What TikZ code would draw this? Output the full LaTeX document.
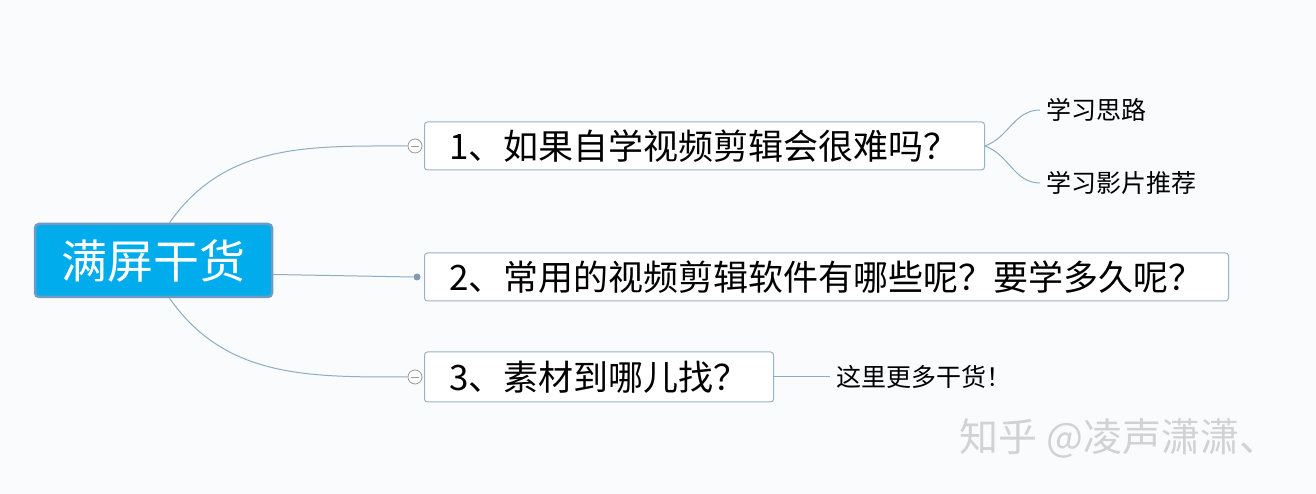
\documentclass[tikz,border=0pt]{standalone}
\usepackage{fontspec}
\setmainfont{Noto Sans CJK SC}
\usepackage{tikz}
\usetikzlibrary{positioning}
\definecolor{rootblue}{RGB}{0,172,236}
\definecolor{rootedge}{RGB}{110,156,196}
\definecolor{branchline}{RGB}{140,173,198}
\definecolor{boxedge}{RGB}{152,178,198}
\definecolor{paper}{RGB}{250,251,252}
\tikzset{
  rootbox/.style={draw=rootedge,line width=2.5pt,fill=rootblue,rounded corners=4pt,text=white,font=\fontsize{46}{50}\selectfont,minimum width=237pt,minimum height=73pt},
  topicbox/.style={draw=boxedge,line width=1pt,fill=white,rounded corners=3pt,font=\fontsize{35}{38}\selectfont,minimum height=48pt,anchor=west,inner xsep=25pt,align=left},
  leaftext/.style={font=\fontsize{25}{28}\selectfont,anchor=west,inner sep=6pt},
  foldmark/.style={circle,draw=gray!80,fill=white,line width=0.8pt,minimum size=14pt,inner sep=0pt},
  dotmark/.style={circle,fill=branchline!90!black,minimum size=7pt,inner sep=0pt},
  branch/.style={draw=branchline,line width=1pt},
}
\begin{document}
\begin{tikzpicture}[x=1pt,y=1pt]
        \fill [paper] (0,0) rectangle (1316,494);
        \useasboundingbox (0,0) rectangle (1316,494);
        \node (root) at (153.5,233.5) [rootbox] {满屏干货};
        \node (t1) at (424,348) [topicbox,text width=510pt] {1、如果自学视频剪辑会很难吗？};
        \node (t2) at (424,217) [topicbox,text width=754pt] {2、常用的视频剪辑软件有哪些呢？要学多久呢？};
        \node (t3) at (424,117) [topicbox,text width=299pt,minimum height=50pt] {3、素材到哪儿找？};
        \node (f1) at (415,348) [foldmark] {};
        \node (f2) at (417,217) [dotmark] {};
        \node (f3) at (415,117) [foldmark] {};
        \draw [gray!80,line width=0.8pt] ([xshift=-4pt]f1.center)--([xshift=4pt]f1.center);
        \draw [gray!80,line width=0.8pt] ([xshift=-4pt]f3.center)--([xshift=4pt]f3.center);
        \node (s1) at (1040,384) [leaftext] {学习思路};
        \node (s2) at (1040,311) [leaftext] {学习影片推荐};
        \node (s3) at (830,117) [leaftext] {这里更多干货！};
        \node (mark) at (956,56) [anchor=west,text=gray!35,font=\fontsize{39}{42}\selectfont] {知乎 @凌声潇潇、};
        \draw [branch] ([xshift=16pt]root.north) to [out=55,in=180] (f1.west);
        \draw [branch] ([yshift=-14pt]root.east)--(f2.west);
        \draw [branch] ([xshift=16pt]root.south) to [out=-55,in=180] (f3.west);
        \draw [branch] (t1.east) to [out=20,in=180] (s1.west);
        \draw [branch] (t1.east) to [out=-20,in=180] (s2.west);
        \draw [branch] (t3.east)--(s3.west);
      \end{tikzpicture}
\end{document}
